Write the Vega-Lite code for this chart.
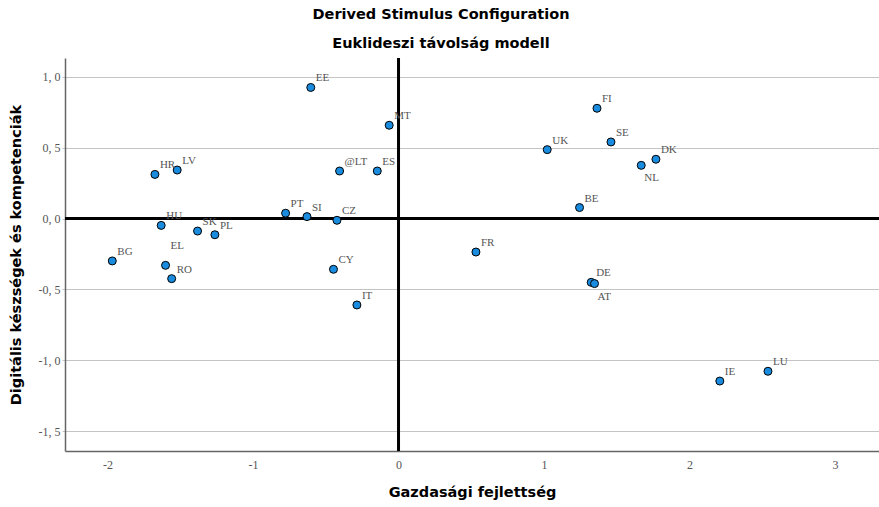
{
  "$schema": "https://vega.github.io/schema/vega-lite/v6.json",
  "width": 814,
  "height": 393,
  "autosize": "none",
  "padding": {"left": 65, "top": 58, "right": 0, "bottom": 56},
  "background": "white",
  "config": {"view": {"stroke": null}},
  "title": {
    "text": "Derived Stimulus Configuration",
    "subtitle": "Euklideszi távolság modell",
    "font": "DejaVu Sans",
    "fontSize": 14.5,
    "fontWeight": "bold",
    "color": "black",
    "subtitleFont": "DejaVu Sans",
    "subtitleFontSize": 14.5,
    "subtitleFontWeight": "bold",
    "subtitleColor": "black",
    "subtitlePadding": 15,
    "offset": 5,
    "dx": -31,
    "anchor": "middle"
  },
  "data": {
    "values": [
      {"c": "EE", "x": -0.603, "y": 0.926},
      {"c": "HR", "x": -1.674, "y": 0.312},
      {"c": "LV", "x": -1.521, "y": 0.343},
      {"c": "HU", "x": -1.631, "y": -0.048},
      {"c": "SK", "x": -1.381, "y": -0.088},
      {"c": "PL", "x": -1.262, "y": -0.114},
      {"c": "PT", "x": -0.776, "y": 0.038},
      {"c": "SI", "x": -0.629, "y": 0.014},
      {"c": "MT", "x": -0.064, "y": 0.659},
      {"c": "@LT", "x": -0.405, "y": 0.336},
      {"c": "ES", "x": -0.146, "y": 0.336},
      {"c": "CZ", "x": -0.423, "y": -0.012},
      {"c": "UK", "x": 1.022, "y": 0.487},
      {"c": "FR", "x": 0.532, "y": -0.236},
      {"c": "FI", "x": 1.364, "y": 0.779},
      {"c": "SE", "x": 1.46, "y": 0.541},
      {"c": "DK", "x": 1.769, "y": 0.419},
      {"c": "NL", "x": 1.668, "y": 0.376},
      {"c": "BE", "x": 1.244, "y": 0.078},
      {"c": "BG", "x": -1.967, "y": -0.299},
      {"c": "EL", "x": -1.601, "y": -0.33},
      {"c": "RO", "x": -1.559, "y": -0.424},
      {"c": "CY", "x": -0.447, "y": -0.358},
      {"c": "IT", "x": -0.286, "y": -0.61},
      {"c": "DE", "x": 1.324, "y": -0.45},
      {"c": "AT", "x": 1.347, "y": -0.459},
      {"c": "IE", "x": 2.208, "y": -1.147},
      {"c": "LU", "x": 2.539, "y": -1.078}
    ]
  },
  "layer": [
    {
      "data": {"values": [{"x": 0}]},
      "mark": {"type": "rule", "color": "black", "strokeWidth": 3},
      "encoding": {"x": {"field": "x", "type": "quantitative"}}
    },
    {
      "data": {"values": [{"y": 0}]},
      "mark": {"type": "rule", "color": "black", "strokeWidth": 3},
      "encoding": {"y": {"field": "y", "type": "quantitative"}}
    },
    {
      "mark": {"type": "circle", "size": 64, "fill": "#1a8ce0", "stroke": "black", "strokeWidth": 1, "opacity": 1},
      "encoding": {
        "x": {
          "field": "x",
          "type": "quantitative",
          "scale": {"domain": [-2.292, 3.302], "nice": false, "zero": false},
          "axis": {
            "title": "Gazdasági fejlettség",
            "values": [-2, -1, 0, 1, 2, 3],
            "labelExpr": "replace(format(datum.value, 'd'), '−', '-')",
            "grid": false,
            "ticks": false,
            "domainColor": "#666666",
            "domainWidth": 1.5,
            "labelFont": "Liberation Serif",
            "labelFontSize": 12,
            "labelColor": "#555555",
            "labelPadding": 8,
            "titleFont": "DejaVu Sans",
            "titleFontSize": 14.5,
            "titleFontWeight": "bold",
            "titleColor": "black",
            "titlePadding": 15
          }
        },
        "y": {
          "field": "y",
          "type": "quantitative",
          "scale": {"domain": [-1.641, 1.134], "nice": false, "zero": false},
          "axis": {
            "title": "Digitális készségek és kompetenciák",
            "values": [-1.5, -1, -0.5, 0, 0.5, 1],
            "labelExpr": "replace(replace(format(datum.value, '.1f'), '.', ', '), '−', '-')",
            "grid": true,
            "gridColor": "#c4c4c4",
            "gridWidth": 1,
            "ticks": true,
            "tickColor": "#c4c4c4",
            "tickSize": 3,
            "domainColor": "#666666",
            "domainWidth": 1.5,
            "labelFont": "Liberation Serif",
            "labelFontSize": 12,
            "labelColor": "#555555",
            "labelPadding": 2,
            "titleFont": "DejaVu Sans",
            "titleFontSize": 14.5,
            "titleFontWeight": "bold",
            "titleColor": "black",
            "titlePadding": 15
          }
        }
      }
    },
    {
      "transform": [{"filter": "datum.c != 'NL' && datum.c != 'AT' && datum.c != 'EL'"}],
      "mark": {"type": "text", "align": "left", "baseline": "alphabetic", "dx": 5, "dy": -6, "font": "Liberation Serif", "fontSize": 11, "color": "#555555"},
      "encoding": {
        "x": {"field": "x", "type": "quantitative"},
        "y": {"field": "y", "type": "quantitative"},
        "text": {"field": "c"}
      }
    },
    {
      "transform": [{"filter": "datum.c == 'NL' || datum.c == 'AT'"}],
      "mark": {"type": "text", "align": "left", "baseline": "alphabetic", "dx": 3, "dy": 16, "font": "Liberation Serif", "fontSize": 11, "color": "#555555"},
      "encoding": {
        "x": {"field": "x", "type": "quantitative"},
        "y": {"field": "y", "type": "quantitative"},
        "text": {"field": "c"}
      }
    },
    {
      "transform": [{"filter": "datum.c == 'EL'"}],
      "mark": {"type": "text", "align": "left", "baseline": "alphabetic", "dx": 5, "dy": -16, "font": "Liberation Serif", "fontSize": 11, "color": "#555555"},
      "encoding": {
        "x": {"field": "x", "type": "quantitative"},
        "y": {"field": "y", "type": "quantitative"},
        "text": {"field": "c"}
      }
    }
  ]
}
